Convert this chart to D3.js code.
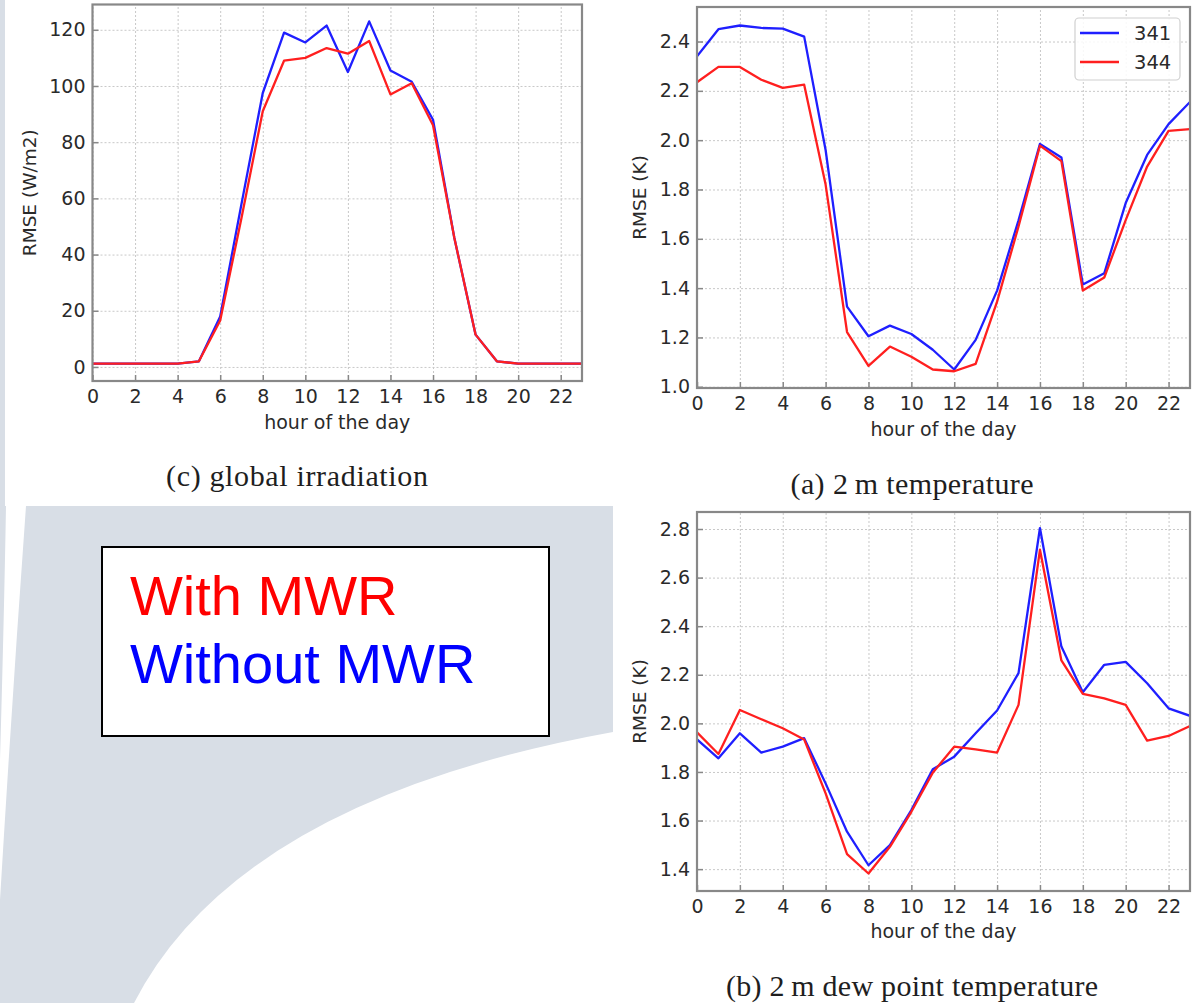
<!DOCTYPE html>
<html>
<head>
<meta charset="utf-8">
<script src="https://cdn.jsdelivr.net/npm/d3@7"></script>
<style>
  html, body { margin: 0; padding: 0; background: #ffffff; }
  svg { display: block; }
</style>
</head>
<body>
<svg id="chart" width="1196" height="1003"></svg>
<script>
// ---------------- data ----------------
const hours = [0,1,2,3,4,5,6,7,8,9,10,11,12,13,14,15,16,17,18,19,20,21,22,23];
const xTicks = [0,2,4,6,8,10,12,14,16,18,20,22];

const seriesNames = ["341", "344"];
const legendNotes = ["With MWR", "Without MWR"];

// (c) global irradiation, RMSE (W/m2)
const irrad341 = [1.2,1.2,1.2,1.2,1.2,2.0,18,58,97.5,119,115.5,121.5,105,123,105.5,101.5,88,46,11.5,2.0,1.2,1.2,1.2,1.2];
const irrad344 = [1.2,1.2,1.2,1.2,1.2,2.0,16.5,53,91,109,110,113.5,111.5,116,97,101,86,46,11.5,2.0,1.2,1.2,1.2,1.2];
const irradTicks = [0,20,40,60,80,100,120];

// (a) 2 m temperature, RMSE (K)
const temp341 = [2.34,2.45,2.465,2.455,2.452,2.42,1.96,1.325,1.205,1.248,1.214,1.15,1.07,1.19,1.39,1.675,1.985,1.93,1.415,1.46,1.745,1.94,2.065,2.155];
const temp344 = [2.235,2.297,2.297,2.245,2.212,2.225,1.82,1.222,1.085,1.163,1.122,1.07,1.063,1.093,1.345,1.65,1.978,1.915,1.39,1.443,1.676,1.893,2.038,2.045];
const tempTicks = [1.0,1.2,1.4,1.6,1.8,2.0,2.2,2.4];

// (b) 2 m dew point temperature, RMSE (K)
const dew341 = [1.934,1.856,1.959,1.880,1.904,1.939,1.753,1.554,1.416,1.499,1.643,1.811,1.863,1.959,2.053,2.207,2.804,2.316,2.128,2.241,2.253,2.165,2.062,2.031];
const dew344 = [1.963,1.874,2.055,2.017,1.980,1.934,1.712,1.462,1.382,1.492,1.636,1.797,1.904,1.893,1.880,2.076,2.715,2.259,2.121,2.103,2.076,1.929,1.948,1.989];
const dewTicks = [1.4,1.6,1.8,2.0,2.2,2.4,2.6,2.8];

// ---------------- styling ----------------
const BLUE = "#1f1fff";
const RED = "#ff1f1f";
const GRAY_BG = "#d8dee6";
const SPINE = "#888888";
const TICKTXT = "#2a2a2a";

const svg = d3.select("#chart");

// ---------------- background (slide) ----------------
const bg = svg.append("g");
bg.append("rect").attr("x", 0).attr("y", 0).attr("width", 1196).attr("height", 1003).attr("fill", "#ffffff");
bg.append("rect").attr("x", 0).attr("y", 0).attr("width", 5).attr("height", 506).attr("fill", GRAY_BG);
bg.append("rect").attr("x", 0).attr("y", 506).attr("width", 613).attr("height", 497).attr("fill", GRAY_BG);
bg.append("path")
  .attr("d", "M6,506 L26,506 Q12,700 0,900 L0,760 Q4,620 6,506 Z")
  .attr("fill", "#ffffff");
bg.append("path")
  .attr("d", "M613,732 Q238,800 134,1003 L613,1003 Z")
  .attr("fill", "#ffffff");

// ---------------- panels ----------------
function panel(cfg) {
  const { left, right, top, bottom, yDomain, yTicks, yFmt, s1, s2, ylabel, caption,
          capX, capY, capLen, xlabY, ylabX, legend } = cfg;
  const g = svg.append("g");
  const x = d3.scaleLinear().domain([0, 23]).range([left, right]);
  const y = d3.scaleLinear().domain(yDomain).range([bottom, top]);
  const W = right - left, H = bottom - top;

  const gx = g.append("g").attr("transform", `translate(0,${bottom})`)
    .call(d3.axisBottom(x).tickValues(xTicks).tickSize(-H).tickFormat(""));
  const gy = g.append("g").attr("transform", `translate(${left},0)`)
    .call(d3.axisLeft(y).tickValues(yTicks).tickSize(-W).tickFormat(""));
  [gx, gy].forEach(a => {
    a.select(".domain").remove();
    a.selectAll("line").attr("stroke", "#c8c8c8").attr("stroke-width", 1).attr("stroke-dasharray", "2,2");
  });

  const cid = "clip" + Math.round(left) + "_" + Math.round(top);
  svg.append("defs").append("clipPath").attr("id", cid)
    .append("rect").attr("x", left).attr("y", top).attr("width", W).attr("height", H);

  const line = d3.line().x((d, i) => x(hours[i])).y(d => y(d));
  const lg = g.append("g").attr("clip-path", `url(#${cid})`);
  lg.append("path").datum(s1).attr("d", line).attr("fill", "none")
    .attr("stroke", BLUE).attr("stroke-width", 2.3).attr("stroke-linejoin", "round");
  lg.append("path").datum(s2).attr("d", line).attr("fill", "none")
    .attr("stroke", RED).attr("stroke-width", 2.3).attr("stroke-linejoin", "round");

  const ax = g.append("g").attr("transform", `translate(0,${bottom})`)
    .call(d3.axisBottom(x).tickValues(xTicks).tickSizeInner(-6).tickSizeOuter(0).tickPadding(9));
  const ay = g.append("g").attr("transform", `translate(${left},0)`)
    .call(d3.axisLeft(y).tickValues(yTicks).tickFormat(yFmt).tickSizeInner(-6).tickSizeOuter(0).tickPadding(7));
  [ax, ay].forEach(a => {
    a.select(".domain").remove();
    a.selectAll("line").attr("stroke", SPINE).attr("stroke-width", 1.5);
    a.selectAll("text").attr("fill", TICKTXT).style("font-family", "'DejaVu Sans', sans-serif").style("font-size", "19px");
  });

  g.append("rect").attr("x", left).attr("y", top).attr("width", W).attr("height", H)
    .attr("fill", "none").attr("stroke", SPINE).attr("stroke-width", 2.2);

  g.append("text").attr("x", (left + right) / 2).attr("y", xlabY).attr("text-anchor", "middle")
    .attr("fill", TICKTXT).style("font-family", "'DejaVu Sans', sans-serif").style("font-size", "19px")
    .text("hour of the day");
  g.append("text").attr("transform", `translate(${ylabX},${(top + bottom) / 2}) rotate(-90)`)
    .attr("text-anchor", "middle").attr("dy", "0.35em")
    .attr("fill", TICKTXT).style("font-family", "'DejaVu Sans', sans-serif").style("font-size", "18.5px")
    .text(ylabel);
  g.append("text").attr("x", capX).attr("y", capY).attr("text-anchor", "middle")
    .attr("textLength", capLen).attr("lengthAdjust", "spacing")
    .attr("fill", "#1e1e1e").style("font-family", "'Liberation Serif', serif").style("font-size", "30px")
    .text(caption);

  if (legend) {
    const L = g.append("g");
    L.append("rect").attr("x", 1075).attr("y", 18).attr("width", 105).attr("height", 62).attr("rx", 4)
      .attr("fill", "#ffffff").attr("fill-opacity", 0.85).attr("stroke", "#d0d0d0").attr("stroke-width", 1.2);
    const cols = [BLUE, RED];
    seriesNames.forEach((n, i) => {
      const yy = 33 + i * 29;
      L.append("line").attr("x1", 1080).attr("x2", 1119).attr("y1", yy).attr("y2", yy)
        .attr("stroke", cols[i]).attr("stroke-width", 2.3);
      L.append("text").attr("x", 1134).attr("y", yy).attr("dy", "0.36em")
        .attr("fill", TICKTXT).style("font-family", "'DejaVu Sans', sans-serif").style("font-size", "19.5px")
        .text(n);
    });
  }
}

const f1 = d3.format(".1f");
panel({ left: 92.5, right: 582, top: 4.5, bottom: 381, yDomain: [-5, 129], yTicks: irradTicks,
  yFmt: d3.format("d"), s1: irrad341, s2: irrad344, ylabel: "RMSE (W/m2)",
  caption: "(c) global irradiation", capX: 297, capY: 486, capLen: 262, xlabY: 429, ylabX: 30 });

panel({ left: 697, right: 1190, top: 7, bottom: 388, yDomain: [0.995, 2.54], yTicks: tempTicks,
  yFmt: f1, s1: temp341, s2: temp344, ylabel: "RMSE (K)",
  caption: "(a) 2\u2009m temperature", capX: 912, capY: 494, capLen: 243, xlabY: 436, ylabX: 640, legend: true });

panel({ left: 697, right: 1190, top: 512, bottom: 891, yDomain: [1.31, 2.87], yTicks: dewTicks,
  yFmt: f1, s1: dew341, s2: dew344, ylabel: "RMSE (K)",
  caption: "(b) 2\u2009m dew point temperature", capX: 912, capY: 996, capLen: 372, xlabY: 938, ylabX: 640 });

// ---------------- note box ----------------
const nb = svg.append("g");
nb.append("rect").attr("x", 102).attr("y", 547).attr("width", 447).attr("height", 189)
  .attr("fill", "#ffffff").attr("stroke", "#000000").attr("stroke-width", 2);
const noteCols = ["#ff0000", "#0000ff"];
legendNotes.forEach((t, i) => {
  nb.append("text").attr("x", 130).attr("y", 615 + i * 68)
    .attr("fill", noteCols[i]).style("font-family", "'Liberation Sans', Arial, sans-serif").style("font-size", "56px")
    .text(t);
});
</script>
</body>
</html>
